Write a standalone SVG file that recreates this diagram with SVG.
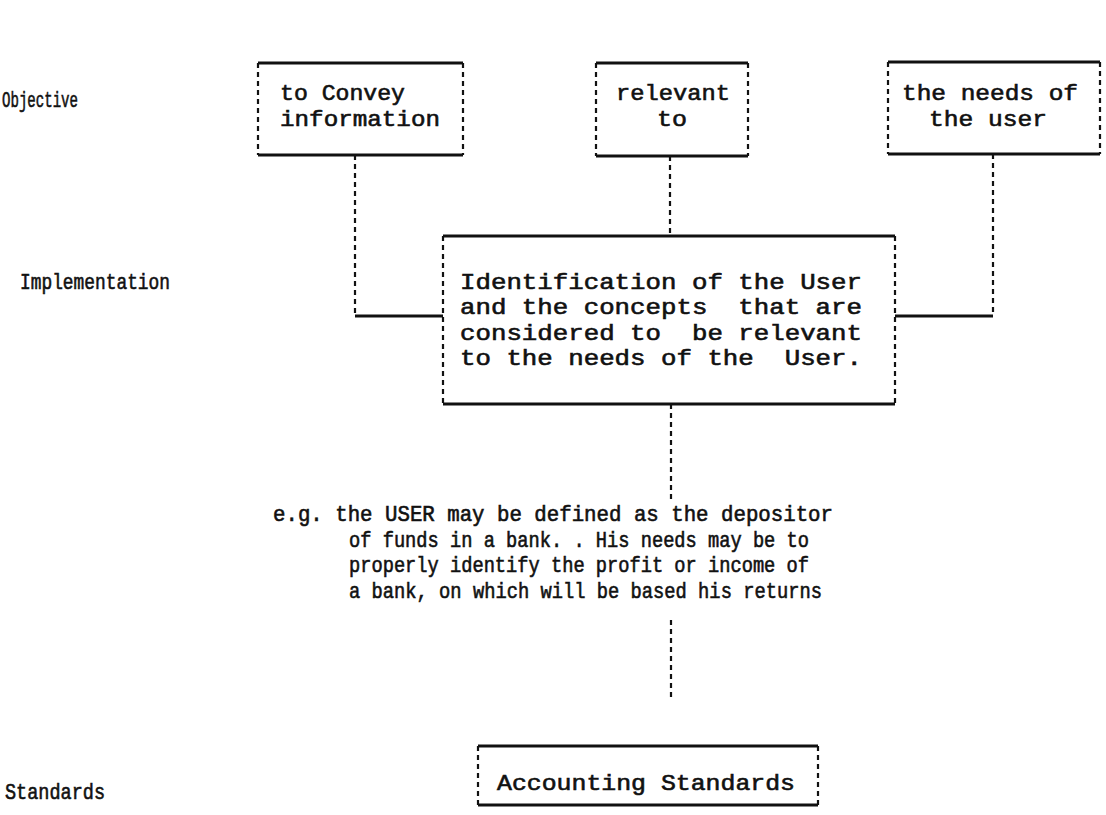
<svg xmlns="http://www.w3.org/2000/svg" width="1106" height="815" viewBox="0 0 1106 815">
<style>
text{font-family:"Liberation Mono","DejaVu Sans Mono",monospace;fill:#111;stroke:#111;stroke-width:0.6;white-space:pre}
.t{font-size:22px}
.lbl{font-size:22px}
.h{stroke:#111;stroke-width:3;fill:none}
.v{stroke:#111;stroke-width:2.2;stroke-dasharray:5 4;fill:none}
</style>
<rect width="1106" height="815" fill="#fff"/>
<g id="labels">
<text class="lbl" x="2" y="107" textLength="76" lengthAdjust="spacingAndGlyphs">Objective</text>
<text class="lbl" x="20" y="289" textLength="150" lengthAdjust="spacingAndGlyphs">Implementation</text>
<text class="lbl" x="5" y="799" textLength="100" lengthAdjust="spacingAndGlyphs">Standards</text>
</g>
<g id="convey">
<path class="h" d="M258 63H463M258 155H463"/>
<path class="v" d="M258 63V155M463 63V155"/>
<text class="t" x="280" y="100" textLength="125" lengthAdjust="spacingAndGlyphs">to Convey</text>
<text class="t" x="280" y="126" textLength="160" lengthAdjust="spacingAndGlyphs">information</text>
</g>
<g id="relevant">
<path class="h" d="M596 63H748M596 156H748"/>
<path class="v" d="M596 63V156M748 63V156"/>
<text class="t" x="616" y="100" textLength="114" lengthAdjust="spacingAndGlyphs">relevant</text>
<text class="t" x="657" y="126" textLength="30" lengthAdjust="spacingAndGlyphs">to</text>
</g>
<g id="needs">
<path class="h" d="M888 62H1100M888 154H1100"/>
<path class="v" d="M888 62V154M1100 62V154"/>
<text class="t" x="902" y="100" textLength="176" lengthAdjust="spacingAndGlyphs">the needs of</text>
<text class="t" x="929" y="126" textLength="118" lengthAdjust="spacingAndGlyphs">the user</text>
</g>
<g id="identification">
<path class="h" d="M443 236H895M443 404H895"/>
<path class="v" d="M443 236V404M895 236V404"/>
<text class="t" x="460" y="289" textLength="402" lengthAdjust="spacingAndGlyphs">Identification of the User</text>
<text class="t" x="460" y="314" textLength="402" lengthAdjust="spacingAndGlyphs">and the concepts  that are</text>
<text class="t" x="460" y="340" textLength="402" lengthAdjust="spacingAndGlyphs">considered to  be relevant</text>
<text class="t" x="460" y="365" textLength="402" lengthAdjust="spacingAndGlyphs">to the needs of the  User.</text>
</g>
<g id="example">
<text class="t" x="273" y="521" textLength="560" lengthAdjust="spacingAndGlyphs">e.g. the USER may be defined as the depositor</text>
<text class="t" x="349" y="547" textLength="460" lengthAdjust="spacingAndGlyphs">of funds in a bank. . His needs may be to</text>
<text class="t" x="349" y="572" textLength="460" lengthAdjust="spacingAndGlyphs">properly identify the profit or income of</text>
<text class="t" x="349" y="598" textLength="473" lengthAdjust="spacingAndGlyphs">a bank, on which will be based his returns</text>
</g>
<g id="standards">
<path class="h" d="M478 746H818M478 805H818"/>
<path class="v" d="M478 746V805M818 746V805"/>
<text class="t" x="497" y="790" textLength="298" lengthAdjust="spacingAndGlyphs">Accounting Standards</text>
</g>
<g id="connectors">
<path class="v" d="M355 155V316M670 156V236M993 154V316M671 404V500M671 620V700"/>
<path class="h" d="M355 316H443M993 316H895"/>
</g>
</svg>
